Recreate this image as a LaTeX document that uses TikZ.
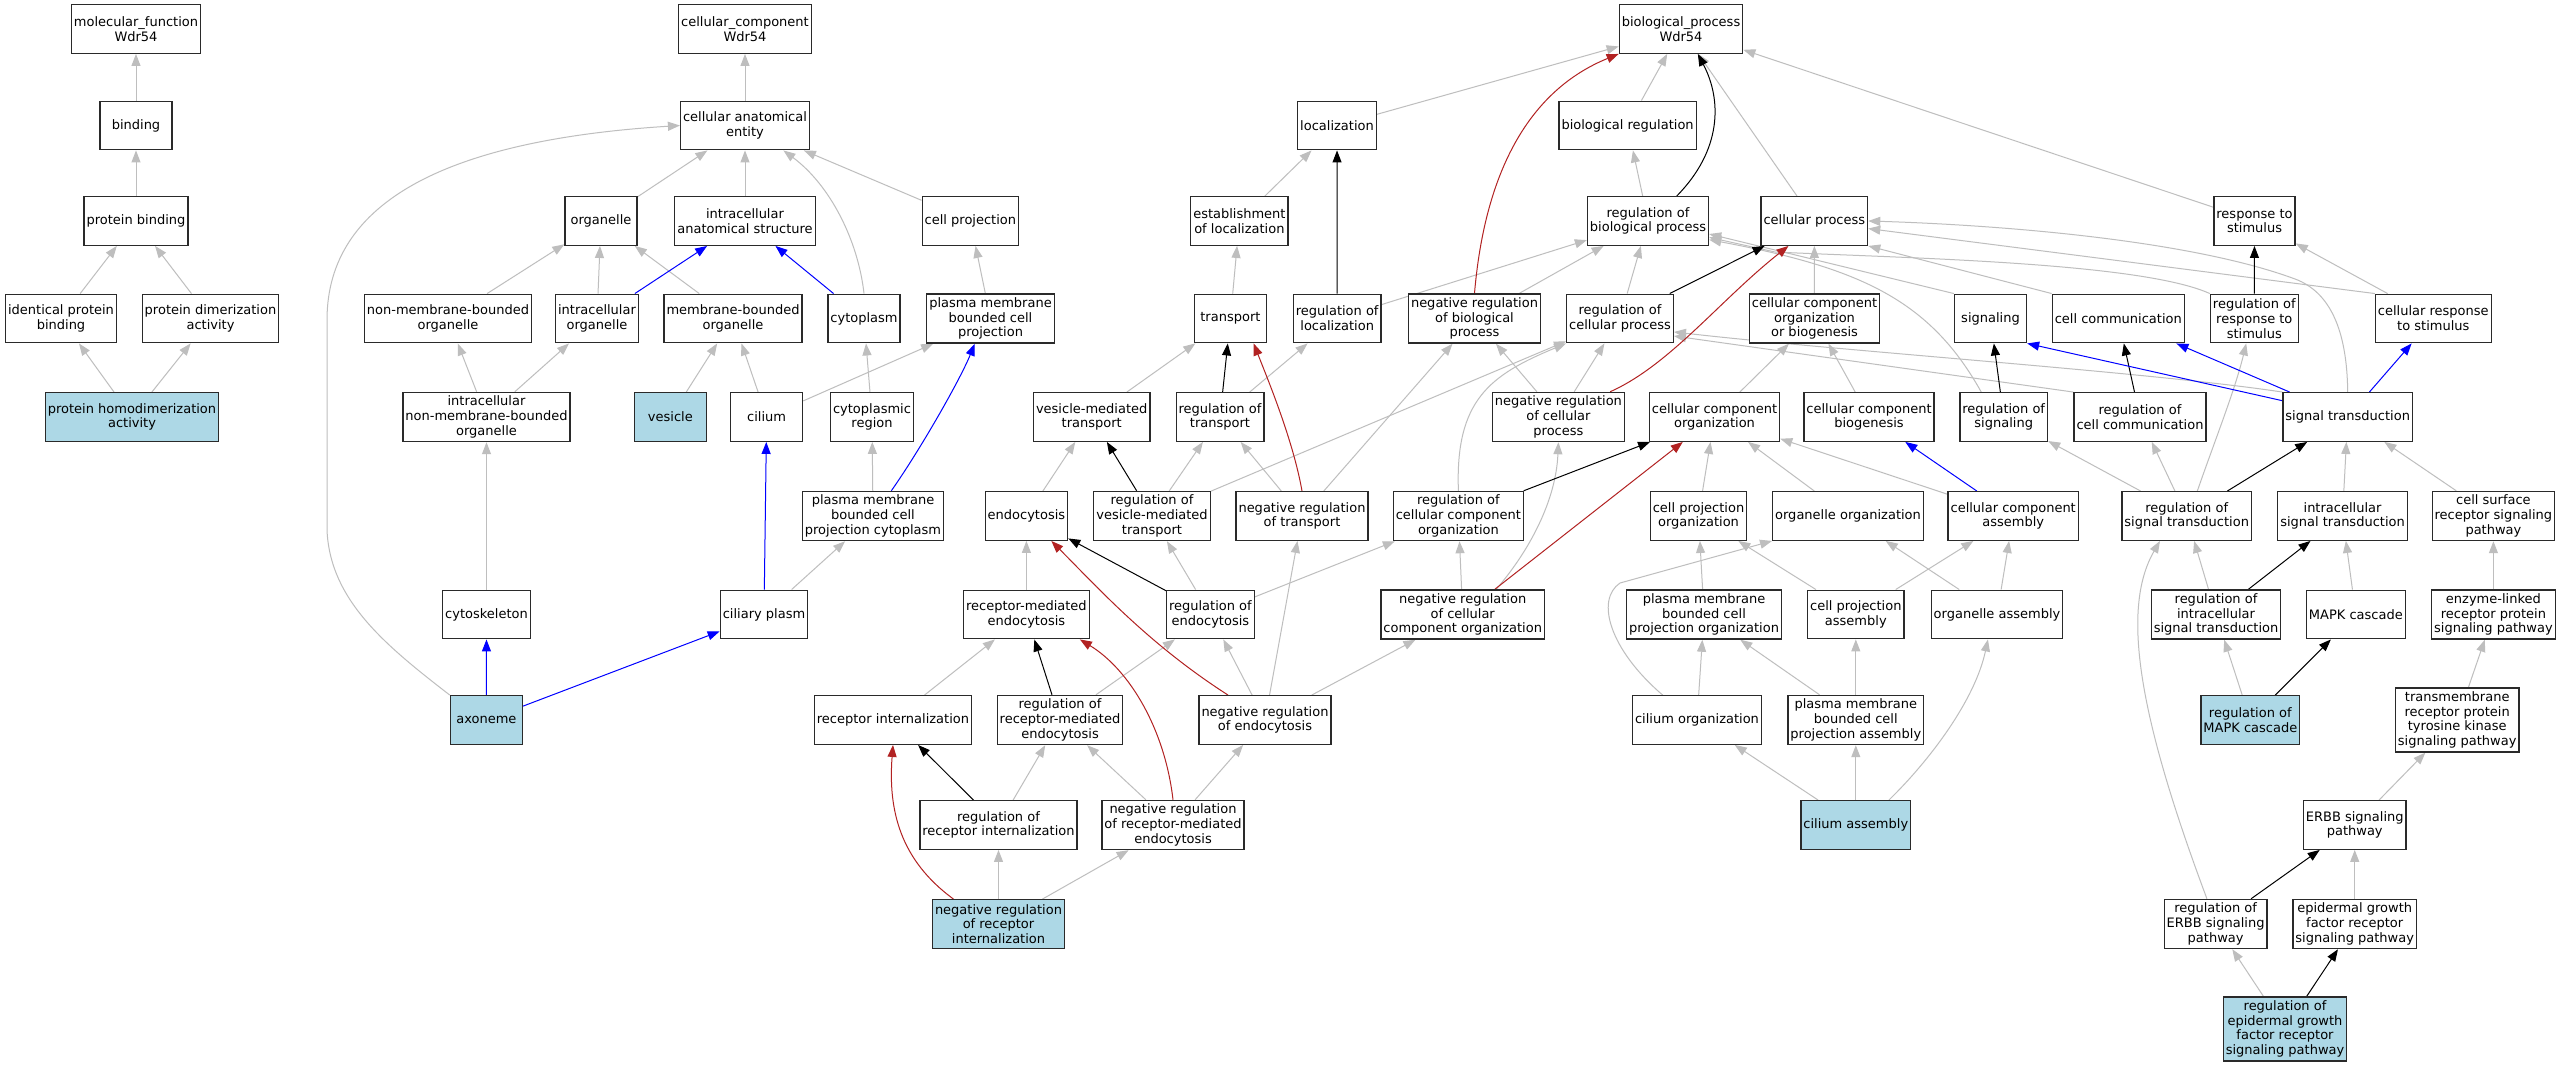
\documentclass[tikz,border=0pt]{standalone}
\usepackage{fontspec}
\setmainfont{DejaVu Sans}
\usetikzlibrary{arrows.meta}
\definecolor{edgegray}{HTML}{BEBEBE}
\definecolor{edgeblue}{HTML}{0000FF}
\definecolor{edgered}{HTML}{B22222}
\definecolor{termblue}{HTML}{ADD8E6}
\definecolor{termborder}{HTML}{2A2A2A}
\pgfdeclarelayer{edgelayer}
\pgfsetlayers{edgelayer,main}
\tikzset{
  term/.style={draw=termborder, line width=1.3pt, fill=white, rectangle,
    minimum width=72pt, minimum height=48.6pt, inner xsep=2.5pt, inner ysep=3.5pt,
    align=center, font=\fontsize{13pt}{14.8pt}\selectfont},
  hit/.style={term, fill=termblue},
  edgebase/.style={line width=1pt, -{Triangle[length=12pt,width=9pt]}},
  gedge/.style={edgebase, draw=edgegray},
  kedge/.style={edgebase, draw=black},
  bedge/.style={edgebase, draw=edgeblue},
  redge/.style={edgebase, draw=edgered},
}
\begin{document}
\begin{tikzpicture}[x=1pt,y=-1pt]
\path[use as bounding box] (0,0) rectangle (2561,1067);
% ---------------- molecular function
\node[term] (mf) at (136,29) {molecular\_function\\Wdr54};
\node[term] (bind) at (136,125.5) {binding};
\node[term] (pbind) at (136,221) {protein binding};
\node[term] (ipb) at (61,318.5) {identical protein\\binding};
\node[term] (pda) at (210.5,318.5) {protein dimerization\\activity};
\node[hit] (pha) at (132,417) {protein homodimerization\\activity};
% ---------------- cellular component
\node[term] (cc) at (745,29) {cellular\_component\\Wdr54};
\node[term] (cae) at (745,125.5) {cellular anatomical\\entity};
\node[term] (org) at (601,221) {organelle};
\node[term] (ias) at (745,221) {intracellular\\anatomical structure};
\node[term] (cproj) at (970.4,221) {cell projection};
\node[term] (nmbo) at (448,318.5) {non-membrane-bounded\\organelle};
\node[term] (io) at (597,318.5) {intracellular\\organelle};
\node[term] (mbo) at (733,318.5) {membrane-bounded\\organelle};
\node[term] (cyto) at (864,318.5) {cytoplasm};
\node[term] (pmbcp) at (990.5,318.5) {plasma membrane\\bounded cell\\projection};
\node[term] (inmbo) at (486.5,417) {intracellular\\non-membrane-bounded\\organelle};
\node[hit] (ves) at (670.4,417) {vesicle};
\node[term] (cil) at (766.6,417) {cilium};
\node[term] (cytreg) at (872,417) {cytoplasmic\\region};
\node[term] (pmbcpc) at (873,516) {plasma membrane\\bounded cell\\projection cytoplasm};
\node[term] (cytosk) at (486.5,614.5) {cytoskeleton};
\node[term] (cilp) at (764,614.5) {ciliary plasm};
\node[hit] (axo) at (486.4,720) {axoneme};
% ---------------- biological process
\node[term] (bp) at (1681,29) {biological\_process\\Wdr54};
\node[term] (loc) at (1337,125.5) {localization};
\node[term] (breg) at (1627.6,125.5) {biological regulation};
\node[term] (estloc) at (1239.4,221) {establishment\\of localization};
\node[term] (rbp) at (1648,221) {regulation of\\biological process};
\node[term] (cp) at (1814.3,221) {cellular process};
\node[term] (rts) at (2254.5,221) {response to\\stimulus};
\node[term] (transp) at (1230.4,318.5) {transport};
\node[term] (rloc) at (1337.2,318.5) {regulation of\\localization};
\node[term] (nrbp) at (1474.5,318.5) {negative regulation\\of biological\\process};
\node[term] (rcp) at (1620,318.5) {regulation of\\cellular process};
\node[term] (ccob) at (1814.5,318.5) {cellular component\\organization\\or biogenesis};
\node[term] (sig) at (1990.5,318.5) {signaling};
\node[term] (ccomm) at (2118.3,318.5) {cell communication};
\node[term] (rrts) at (2254.3,318.5) {regulation of\\response to\\stimulus};
\node[term] (crts) at (2433.3,318.5) {cellular response\\to stimulus};
\node[term] (vmt) at (1091.7,417) {vesicle-mediated\\transport};
\node[term] (rtr) at (1220,417) {regulation of\\transport};
\node[term] (nrcp) at (1558.4,417) {negative regulation\\of cellular\\process};
\node[term] (cco) at (1714.5,417) {cellular component\\organization};
\node[term] (ccb) at (1869,417) {cellular component\\biogenesis};
\node[term] (rsig) at (2003.7,417) {regulation of\\signaling};
\node[term] (rcc) at (2140,417) {regulation of\\cell communication};
\node[term] (st) at (2347.7,417) {signal transduction};
\node[term] (endo) at (1026.4,516) {endocytosis};
\node[term] (rvmt) at (1152,516) {regulation of\\vesicle-mediated\\transport};
\node[term] (nrt) at (1302,516) {negative regulation\\of transport};
\node[term] (rcco) at (1458.4,516) {regulation of\\cellular component\\organization};
\node[term] (cpo) at (1698.5,516) {cell projection\\organization};
\node[term] (oo) at (1848,516) {organelle organization};
\node[term] (cca) at (2013.2,516) {cellular component\\assembly};
\node[term] (rst) at (2186.7,516) {regulation of\\signal transduction};
\node[term] (ist) at (2342.5,516) {intracellular\\signal transduction};
\node[term] (csrsp) at (2493.4,516) {cell surface\\receptor signaling\\pathway};
\node[term] (rme) at (1026.4,614.5) {receptor-mediated\\endocytosis};
\node[term] (rendo) at (1210.4,614.5) {regulation of\\endocytosis};
\node[term] (nrcco) at (1462.7,614.5) {negative regulation\\of cellular\\component organization};
\node[term] (pmbcpo) at (1704,614.5) {plasma membrane\\bounded cell\\projection organization};
\node[term] (cpa) at (1855.8,614.5) {cell projection\\assembly};
\node[term] (oa) at (1997,614.5) {organelle assembly};
\node[term] (rist) at (2216,614.5) {regulation of\\intracellular\\signal transduction};
\node[term] (mapk) at (2355.8,614.5) {MAPK cascade};
\node[term] (elrp) at (2493.4,614.5) {enzyme-linked\\receptor protein\\signaling pathway};
\node[term] (rint) at (893,720) {receptor internalization};
\node[term] (rrme) at (1060,720) {regulation of\\receptor-mediated\\endocytosis};
\node[term] (nrendo) at (1265,720) {negative regulation\\of endocytosis};
\node[term] (cilo) at (1697,720) {cilium organization};
\node[term] (pmbcpa) at (1855.8,720) {plasma membrane\\bounded cell\\projection assembly};
\node[hit] (rmapk) at (2250.3,720) {regulation of\\MAPK cascade};
\node[term] (trptk) at (2457.2,720) {transmembrane\\receptor protein\\tyrosine kinase\\signaling pathway};
\node[term] (rrint) at (998.5,825) {regulation of\\receptor internalization};
\node[term] (nrrme) at (1173,825) {negative regulation\\of receptor-mediated\\endocytosis};
\node[hit] (cila) at (1855.8,825) {cilium assembly};
\node[term] (erbb) at (2354.7,825) {ERBB signaling\\pathway};
\node[hit] (nrrint) at (998.5,924) {negative regulation\\of receptor\\internalization};
\node[term] (rerbb) at (2215.6,924) {regulation of\\ERBB signaling\\pathway};
\node[term] (egfr) at (2354.7,924) {epidermal growth\\factor receptor\\signaling pathway};
\node[hit] (regfr) at (2285,1029) {regulation of\\epidermal growth\\factor receptor\\signaling pathway};

\begin{pgfonlayer}{edgelayer}
\fill[white] (0,0) rectangle (2561,1067);
% gray straight edges
\foreach \a/\b in {bind/mf, pbind/bind, ipb/pbind, pda/pbind, pha/ipb, pha/pda,
  cae/cc, org/cae, ias/cae, cproj/cae, nmbo/org, io/org, mbo/org, inmbo/nmbo, inmbo/io,
  ves/mbo, cil/mbo, cil/pmbcp, pmbcp/cproj, cytreg/cyto, pmbcpc/cytreg, cytosk/inmbo, cilp/pmbcpc,
  loc/bp, breg/bp, cp/bp, rts/bp, estloc/loc, rbp/breg, rloc/rbp, transp/estloc, nrbp/rbp,
  rcp/rbp, nrcp/nrbp, nrcp/rcp, ccob/cp, cco/ccob, ccb/ccob, crts/rts, vmt/transp, rtr/rloc,
  endo/vmt, rvmt/rtr, nrt/rtr, rvmt/rcp, nrt/nrbp, rme/endo, rendo/rvmt, rendo/rcco,
  nrendo/rendo, nrendo/nrt, nrendo/nrcco, nrcco/rcco, cpo/cco, oo/cco, cca/cco, pmbcpo/cpo,
  cpa/cpo, cpa/cca, oa/oo, oa/cca, cilo/pmbcpo, pmbcpa/pmbcpo, pmbcpa/cpa, cila/cilo,
  cila/pmbcpa, rint/rme, rrme/rendo, rrint/rrme, nrrme/rrme, nrrme/nrendo, nrrint/rrint,
  nrrint/nrrme, rst/rsig, rst/rcc, ist/st, csrsp/st, rist/rst, mapk/ist, rmapk/rist,
  elrp/csrsp, trptk/elrp, erbb/trptk, egfr/erbb, regfr/rerbb}
  \draw[gedge] (\a) -- (\b);
\draw[gedge] (sig.north west) -- (rbp.-12);
\draw[gedge] (rcc.north west) -- (rcp.-18);
\draw[gedge] (crts.north west) -- (cp.-8);
\draw[gedge] (ccomm.north west) -- (cp.south east);
% gray curved edges
\draw[gedge] (axo.north west) .. controls (385,645) and (330,600) .. (327,530) -- (327,320)
  .. controls (327,200) and (450,140) .. (cae.west);
\draw[gedge] (cyto.north) .. controls (858,240) and (830,185) .. (cae.-33);
\draw[gedge] (st.north) .. controls (2347,330) and (2330,292) .. (2295,279)
  .. controls (2190,240) and (2000,225) .. (cp.east);
\draw[gedge] (rrts.north west) .. controls (2140,262) and (1900,258) .. (1775,252) -- (rbp.-15);
\draw[gedge] (rsig.132) .. controls (1930,300) and (1860,268) .. (rbp.-17);
\draw[gedge] (st.north west) .. controls (2150,372) and (1850,352) .. (rcp.-14);
\draw[gedge] (rcco.north) .. controls (1455,400) and (1490,375) .. (rcp.south west);
\draw[gedge] (nrcco.37) .. controls (1530,550) and (1556,500) .. (nrcp.south);
\draw[gedge] (cilo.144) .. controls (1610,650) and (1595,600) .. (1620,583) -- (oo.south west);
\draw[gedge] (cila.37) .. controls (1930,760) and (1975,700) .. (oa.-110);
\draw[gedge] (rerbb.109) .. controls (2140,720) and (2120,610) .. (rst.-137);
\draw[gedge] (rst.67) .. controls (2215,440) and (2235,390) .. (rrts.-108);
% black edges
\foreach \a/\b in {rloc/loc, rtr/transp, rcp/cp, rvmt/vmt, rendo/endo, rrme/rme, rrint/rint,
  rcco/cco, rsig/sig, rcc/ccomm, rrts/rts, rst/st, rist/ist, rmapk/mapk, rerbb/erbb, regfr/egfr}
  \draw[kedge] (\a) -- (\b);
\draw[kedge] (rbp.41) .. controls (1722,150) and (1722,100) .. (bp.-56);
% blue edges
\foreach \a/\b in {io/ias, cyto/ias, cilp/cil, axo/cytosk, axo/cilp, cca/ccb, st/ccomm, st/crts}
  \draw[bedge] (\a) -- (\b);
\draw[bedge] (st.166) -- (sig.south east);
\draw[bedge] (pmbcpc.54) .. controls (920,450) and (960,380) .. (pmbcp.-122);
% red edges
\draw[redge] (nrcco) -- (cco);
\draw[redge] (nrbp.north) .. controls (1485,170) and (1530,90) .. (bp.south west);
\draw[redge] (nrt.north) .. controls (1293,440) and (1268,380) .. (transp.-47);
\draw[redge] (nrcp.26) .. controls (1670,365) and (1720,300) .. (cp.-136);
\draw[redge] (nrendo.146) .. controls (1150,645) and (1100,590) .. (endo.-45);
\draw[redge] (nrrme.north) .. controls (1165,730) and (1130,670) .. (rme.-25);
\draw[redge] (nrrint.151) .. controls (900,860) and (888,810) .. (rint.south);
\end{pgfonlayer}
\end{tikzpicture}
\end{document}
